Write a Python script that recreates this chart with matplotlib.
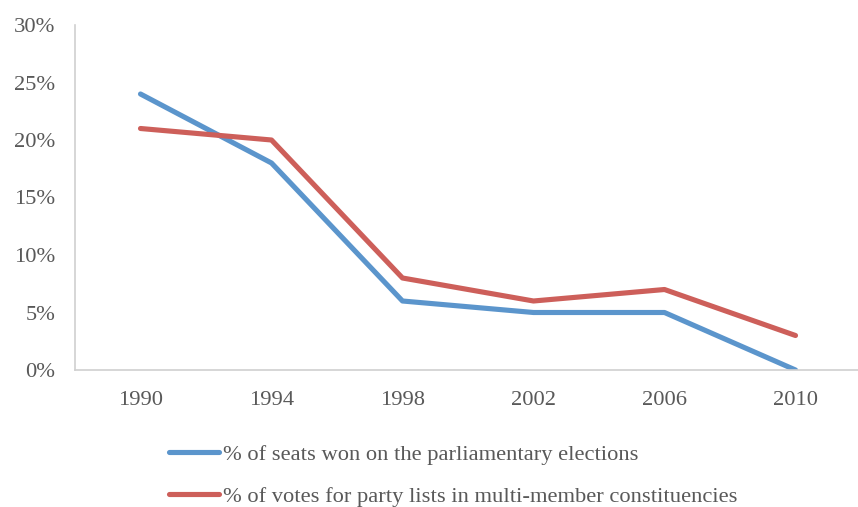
import matplotlib
matplotlib.use("Agg")
import matplotlib.pyplot as plt
from matplotlib.lines import Line2D
from matplotlib.ticker import FuncFormatter

years = ["1990", "1994", "1998", "2002", "2006", "2010"]
seats_won = [24, 18, 6, 5, 5, 0]
list_votes = [21, 20, 8, 6, 7, 3]
seats_label = "% of seats won on the parliamentary elections"
votes_label = "% of votes for party lists in multi-member constituencies"

blue = "#5b95cc"
red = "#cd5f5a"
text_gray = "#595959"
axis_gray = "#d0d0d0"

plt.rcParams["font.family"] = ["Liberation Serif", "DejaVu Serif"]

fig = plt.figure(figsize=(8.58, 5.07), dpi=100)
ax = fig.add_axes([75 / 858, 1 - 370 / 507, 786 / 858, (370 - 25) / 507])

x = list(range(len(years)))
ax.plot(x, seats_won, color=blue, lw=3.7, solid_capstyle="round", solid_joinstyle="round")
ax.plot(x, list_votes, color=red, lw=3.7, solid_capstyle="round", solid_joinstyle="round")

ax.set_xlim(-0.5, len(years) - 0.5)
ax.set_ylim(0, 30)
ax.set_yticks(range(0, 31, 5))
ax.yaxis.set_major_formatter(FuncFormatter(lambda v, p: f"{int(v)}%"))
ax.set_xticks(x)
ax.set_xticklabels(years)

for s in ["top", "right"]:
    ax.spines[s].set_visible(False)
for s in ["left", "bottom"]:
    ax.spines[s].set_color(axis_gray)
    ax.spines[s].set_linewidth(1.2)
ax.tick_params(length=0, labelsize=16.2, colors=text_gray)
ax.tick_params(axis="x", pad=15)
ax.tick_params(axis="y", pad=14)

handles = [Line2D([], [], color=blue, lw=3.7, solid_capstyle="round"),
           Line2D([], [], color=red, lw=3.7, solid_capstyle="round")]
fig.legend(handles, [seats_label, votes_label], loc="upper left",
           bbox_to_anchor=(160 / 858, 1 - 435 / 507), frameon=False,
           fontsize=16.2, labelcolor=text_gray, handlelength=2.2,
           handletextpad=0.2, labelspacing=0.95, borderaxespad=0)

fig.savefig("out.png", dpi=100)
